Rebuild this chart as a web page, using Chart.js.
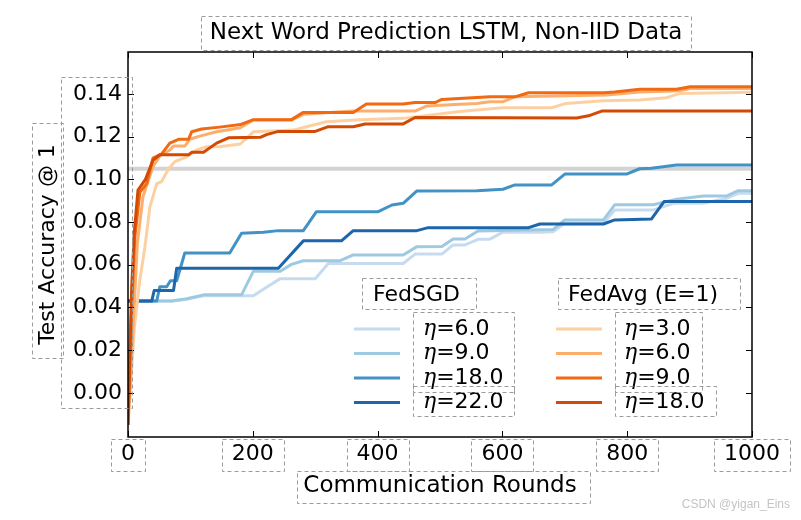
<!DOCTYPE html>
<html>
<head>
<meta charset="utf-8">
<script src="https://cdn.jsdelivr.net/npm/chart.js@4.4.1/dist/chart.umd.min.js"></script>
<style>
  body { margin: 0; background: #fff; }
  canvas { display: block; }
</style>
</head>
<body>
<canvas id="chart" width="801" height="520"></canvas>
<script>
// axis ticks
const xTicks = [0, 200, 400, 600, 800, 1000];
const yTicks = [0, 0.02, 0.04, 0.06, 0.08, 0.10, 0.12, 0.14];

// [round, accuracy]
const sgdEta6 = [[0, 0.043], [70, 0.043], [94, 0.0438], [121, 0.0455], [201, 0.0455], [222, 0.0495], [244, 0.0535], [300, 0.0535], [321, 0.0606], [441, 0.0606], [460, 0.065], [503, 0.065], [521, 0.0693], [540, 0.0693], [562, 0.072], [580, 0.072], [600, 0.0752], [660, 0.0752], [681, 0.0755], [700, 0.0794], [762, 0.0794], [780, 0.0857], [842, 0.0857], [874, 0.0888], [922, 0.0888], [959, 0.0911], [978, 0.0935], [1000, 0.0935]];
const sgdEta9 = [[0, 0.043], [70, 0.043], [94, 0.0441], [121, 0.0459], [182, 0.0459], [201, 0.057], [244, 0.057], [262, 0.0602], [281, 0.0619], [340, 0.0619], [361, 0.0646], [441, 0.0646], [463, 0.0685], [503, 0.0686], [521, 0.0721], [540, 0.0721], [561, 0.0758], [681, 0.0765], [700, 0.081], [762, 0.081], [780, 0.0881], [842, 0.0881], [879, 0.0907], [922, 0.0922], [959, 0.0922], [978, 0.0947], [1000, 0.0947]];
const sgdEta18 = [[0, 0.043], [46, 0.043], [51, 0.0497], [62, 0.0497], [68, 0.0525], [78, 0.0525], [91, 0.0655], [163, 0.0655], [182, 0.0748], [217, 0.0752], [241, 0.076], [281, 0.076], [302, 0.0849], [401, 0.0849], [423, 0.088], [441, 0.0888], [463, 0.0946], [559, 0.0947], [601, 0.0954], [620, 0.0974], [679, 0.0974], [700, 0.1025], [799, 0.1025], [820, 0.105], [839, 0.1052], [879, 0.1068], [1000, 0.1068]];
const sgdEta22 = [[0, 0.043], [38, 0.043], [42, 0.048], [73, 0.048], [78, 0.0584], [241, 0.0584], [281, 0.0712], [342, 0.0712], [361, 0.076], [463, 0.076], [481, 0.0774], [642, 0.0774], [660, 0.0791], [762, 0.0791], [780, 0.081], [839, 0.0815], [859, 0.0896], [1000, 0.0896]];

const avgEta3 = [[0, -0.015], [10, 0.03], [19, 0.053], [27, 0.068], [35, 0.087], [46, 0.098], [54, 0.099], [65, 0.105], [75, 0.1083], [94, 0.1106], [110, 0.1138], [126, 0.1153], [147, 0.1153], [180, 0.1166], [201, 0.1223], [265, 0.1231], [286, 0.1247], [318, 0.127], [372, 0.128], [441, 0.1286], [479, 0.130], [532, 0.1318], [559, 0.1325], [601, 0.1336], [679, 0.1336], [702, 0.1356], [762, 0.1369], [820, 0.1372], [863, 0.1383], [885, 0.1403], [1000, 0.1408]];
const avgEta6 = [[0, -0.015], [8, 0.03], [15, 0.07], [24, 0.092], [40, 0.106], [51, 0.111], [67, 0.1138], [73, 0.1156], [91, 0.1156], [99, 0.1188], [115, 0.1203], [142, 0.1223], [180, 0.1242], [201, 0.1278], [262, 0.1278], [281, 0.1305], [361, 0.132], [460, 0.132], [479, 0.1344], [516, 0.135], [559, 0.1356], [580, 0.1364], [601, 0.1364], [620, 0.1387], [767, 0.1395], [820, 0.141], [885, 0.1416], [901, 0.1426], [1000, 0.1426]];
const avgEta9 = [[0, -0.015], [6, 0.04], [11, 0.073], [19, 0.094], [30, 0.098], [40, 0.11], [54, 0.112], [67, 0.117], [81, 0.1188], [97, 0.1188], [102, 0.1223], [118, 0.1236], [147, 0.1245], [180, 0.1257], [201, 0.128], [262, 0.128], [281, 0.1314], [361, 0.1314], [382, 0.1353], [441, 0.1353], [460, 0.136], [492, 0.136], [503, 0.1375], [580, 0.1387], [620, 0.1387], [642, 0.1406], [762, 0.1406], [780, 0.141], [820, 0.1422], [879, 0.1422], [901, 0.1434], [1000, 0.1434]];
const avgEta18 = [[0, -0.015], [3, 0.02], [6, 0.05], [10, 0.075], [16, 0.095], [28, 0.1], [40, 0.109], [51, 0.1115], [97, 0.1115], [102, 0.1127], [121, 0.1127], [142, 0.117], [161, 0.1195], [212, 0.1197], [222, 0.121], [241, 0.1225], [300, 0.1225], [321, 0.1247], [361, 0.1247], [380, 0.126], [441, 0.126], [460, 0.129], [719, 0.1288], [738, 0.1298], [759, 0.132], [1000, 0.132]];

const baseline = [[0, 0.105], [1000, 0.105]];

const sgdLabels = ['6.0', '9.0', '18.0', '22.0'];
const avgLabels = ['3.0', '6.0', '9.0', '18.0'];
const sgdColors = ['#c6dbef', '#9ecae1', '#4292c6', '#1d66ab'];
const avgColors = ['#fdd0a2', '#fdae6b', '#f16913', '#d24a03'];

const FONT = '"DejaVu Sans", sans-serif';

const toPoints = arr => arr.map(p => ({ x: p[0], y: p[1] }));
const line = (label, data, color) => ({
  label: label,
  data: toPoints(data),
  borderColor: color,
  backgroundColor: color,
  borderWidth: 3,
  pointRadius: 0,
  tension: 0,
  borderJoinStyle: 'round',
  fill: false
});

const sgdSeries = [sgdEta6, sgdEta9, sgdEta18, sgdEta22];
const avgSeries = [avgEta3, avgEta6, avgEta9, avgEta18];

const datasets = [];
avgSeries.slice().reverse().forEach((s, i) => {
  const k = avgSeries.length - 1 - i;
  datasets.push(line('FedAvg eta=' + avgLabels[k], s, avgColors[k]));
});
sgdSeries.slice().reverse().forEach((s, i) => {
  const k = sgdSeries.length - 1 - i;
  datasets.push(line('FedSGD eta=' + sgdLabels[k], s, sgdColors[k]));
});
const base = line('baseline', baseline, '#d3d3d3');
base.borderWidth = 4;
base.order = 10;
datasets.push(base);

const dashBox = (ctx, x, y, w, h) => {
  ctx.strokeRect(Math.round(x) + 0.5, Math.round(y) + 0.5, Math.round(w), Math.round(h));
};

const decorations = {
  id: 'decorations',
  afterDraw(chart) {
    const { ctx, chartArea: a, scales: { x, y } } = chart;
    ctx.save();
    // frame
    ctx.strokeStyle = '#000';
    ctx.lineWidth = 1.5;
    ctx.strokeRect(a.left, a.top, a.right - a.left, a.bottom - a.top);
    // inward ticks on all four sides
    ctx.lineWidth = 1;
    xTicks.forEach(v => {
      const px = Math.round(x.getPixelForValue(v)) + 0.5;
      ctx.beginPath();
      ctx.moveTo(px, a.bottom); ctx.lineTo(px, a.bottom - 6);
      ctx.moveTo(px, a.top); ctx.lineTo(px, a.top + 6);
      ctx.stroke();
    });
    yTicks.forEach(v => {
      const py = Math.round(y.getPixelForValue(v)) + 0.5;
      ctx.beginPath();
      ctx.moveTo(a.left, py); ctx.lineTo(a.left + 6, py);
      ctx.moveTo(a.right, py); ctx.lineTo(a.right - 6, py);
      ctx.stroke();
    });

    // title
    const title = 'Next Word Prediction LSTM, Non-IID Data';
    ctx.font = '23px ' + FONT;
    ctx.fillStyle = '#000';
    ctx.textAlign = 'center';
    ctx.textBaseline = 'middle';
    ctx.fillText(title, 446, 33);
    const tw = ctx.measureText(title).width;

    // legend
    const drawGroup = (head, headX, lineX0, textX, labels, colors) => {
      ctx.font = '22px ' + FONT;
      ctx.textAlign = 'left';
      ctx.fillStyle = '#000';
      ctx.fillText(head, headX, 295);
      labels.forEach((lab, i) => {
        const yy = 329 + i * 24.5;
        ctx.strokeStyle = colors[i];
        ctx.lineWidth = 3;
        ctx.beginPath();
        ctx.moveTo(lineX0, yy); ctx.lineTo(lineX0 + 46, yy);
        ctx.stroke();
        ctx.font = 'italic 22px "DejaVu Serif", serif';
        ctx.fillText('\u03b7', textX, yy);
        const ew = ctx.measureText('\u03b7').width;
        ctx.font = '22px ' + FONT;
        ctx.fillText('=' + lab, textX + ew, yy);
      });
    };
    drawGroup('FedSGD', 373, 354, 423, sgdLabels, sgdColors);
    drawGroup('FedAvg (E=1)', 568, 556, 624, avgLabels, avgColors);

    // dashed text boxes
    ctx.strokeStyle = '#9a9a9a';
    ctx.lineWidth = 1;
    ctx.setLineDash([4, 3]);
    dashBox(ctx, 446 - tw / 2 - 9, 16, tw + 18, 34);
    dashBox(ctx, 32, 123, 31, 235);
    dashBox(ctx, 61, 77, 71, 331);
    ctx.font = '22px ' + FONT;
    xTicks.forEach(v => {
      const px = x.getPixelForValue(v);
      const w = ctx.measureText(String(v)).width;
      dashBox(ctx, px - w / 2 - 10, 439, w + 20, 32);
    });
    dashBox(ctx, 297, 471, 293, 32);
    dashBox(ctx, 362, 278, 114, 31);
    dashBox(ctx, 558, 278, 182, 31);
    dashBox(ctx, 413, 312, 101, 80);
    dashBox(ctx, 413, 386, 101, 30);
    dashBox(ctx, 615, 312, 87, 80);
    dashBox(ctx, 615, 386, 101, 30);
    ctx.setLineDash([]);

    // watermark
    ctx.font = '12px "Liberation Sans", sans-serif';
    ctx.fillStyle = '#c4c4c4';
    ctx.textAlign = 'right';
    ctx.fillText('CSDN @yigan_Eins', 790, 505);
    ctx.restore();
  }
};

new Chart(document.getElementById('chart'), {
  type: 'line',
  data: { datasets: datasets },
  options: {
    responsive: false,
    animation: false,
    layout: { padding: { left: 30, right: 49, top: 52, bottom: 16 } },
    plugins: {
      legend: { display: false },
      tooltip: { enabled: false },
      title: { display: false }
    },
    scales: {
      x: {
        type: 'linear',
        min: 0,
        max: 1000,
        afterBuildTicks: s => { s.ticks = xTicks.map(v => ({ value: v })); },
        afterFit: s => { s.height = 67; },
        grid: { display: false, drawTicks: false },
        border: { display: false },
        ticks: {
          color: '#000',
          font: { family: FONT, size: 22 },
          padding: 4,
          maxRotation: 0,
          autoSkip: false,
          callback: v => String(v)
        },
        title: {
          display: true,
          text: 'Communication Rounds',
          color: '#000',
          font: { family: FONT, size: 23 },
          padding: { top: 4, bottom: 4 }
        }
      },
      y: {
        min: -0.0207,
        max: 0.1597,
        afterBuildTicks: s => { s.ticks = yTicks.map(v => ({ value: v })); },
        afterFit: s => { s.width = 98; },
        grid: { display: false, drawTicks: false },
        border: { display: false },
        ticks: {
          color: '#000',
          font: { family: FONT, size: 22 },
          padding: 6,
          autoSkip: false,
          callback: v => v.toFixed(2)
        },
        title: {
          display: true,
          text: 'Test Accuracy @ 1',
          color: '#000',
          font: { family: FONT, size: 22 },
          padding: { top: 5, bottom: 4 }
        }
      }
    }
  },
  plugins: [decorations]
});
</script>
</body>
</html>
